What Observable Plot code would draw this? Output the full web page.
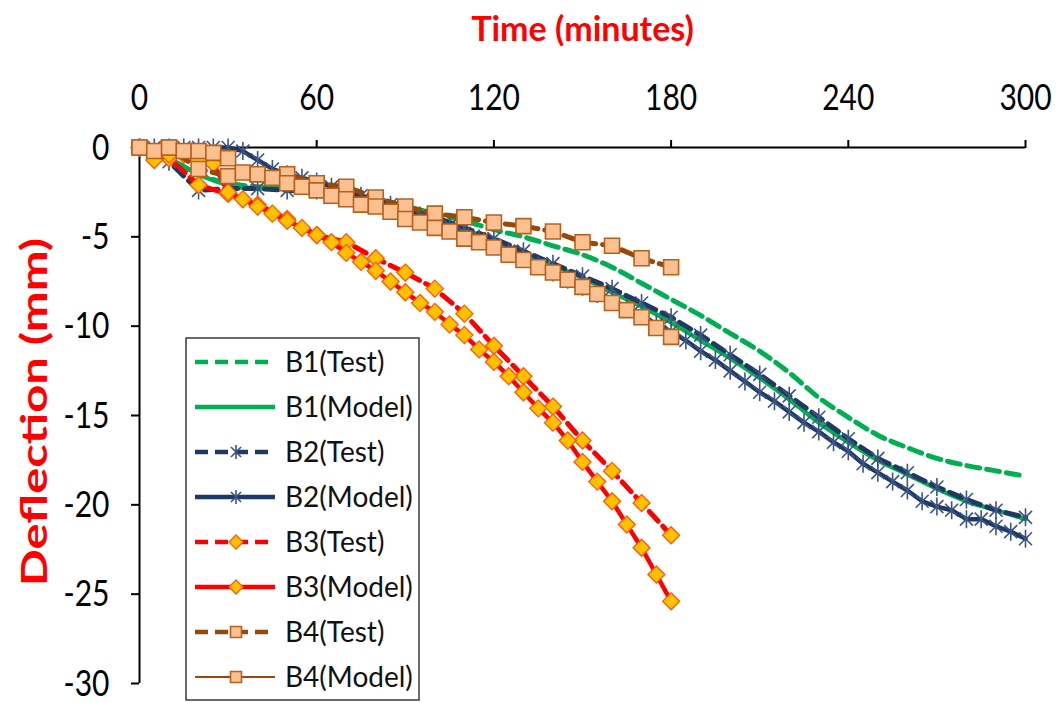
<!DOCTYPE html>
<html>
<head>
<meta charset="utf-8">
<script src="https://cdn.jsdelivr.net/npm/d3@7"></script>
<script src="https://cdn.jsdelivr.net/npm/@observablehq/plot@0.6"></script>
<style>
html, body { margin: 0; padding: 0; background: #fff; }
#chart { width: 1057px; height: 703px; }
</style>
</head>
<body>
<div id="chart"></div>
<script>
// ---- tick labels ----
const xTickValues = [0, 60, 120, 180, 240, 300];
const yTickValues = [0, -5, -10, -15, -20, -25, -30];

// ---- time grids (minutes) ----
const every10To300 = [0,10,20,30,40,50,60,70,80,90,100,110,120,130,140,150,160,170,180,190,200,210,220,230,240,250,260,270,280,290,300];
const every5To300 = [0,5,10,15,20,25,30,35,40,45,50,55,60,65,70,75,80,85,90,95,100,105,110,115,120,125,130,135,140,145,150,155,160,165,170,175,180,185,190,195,200,205,210,215,220,225,230,235,240,245,250,255,260,265,270,275,280,285,290,295,300];
const every10To180 = [0,10,20,30,40,50,60,70,80,90,100,110,120,130,140,150,160,170,180];
const every5To180 = [0,5,10,15,20,25,30,35,40,45,50,55,60,65,70,75,80,85,90,95,100,105,110,115,120,125,130,135,140,145,150,155,160,165,170,175,180];

// ---- deflections (mm) ----
const b1Test = [0,-0.7,-1.5,-2.0,-2.2,-2.3,-2.5,-2.7,-3.0,-3.3,-3.7,-4.1,-4.6,-5.0,-5.5,-6.0,-6.7,-7.6,-8.5,-9.4,-10.4,-11.4,-12.6,-14.0,-15.1,-16.1,-16.8,-17.4,-17.8,-18.1,-18.4];
const b1Model = [0,-0.6,-1.5,-2.1,-2.3,-2.3,-2.5,-2.8,-3.1,-3.5,-4.0,-4.6,-5.2,-5.9,-6.6,-7.3,-8.1,-8.9,-9.8,-10.8,-11.8,-12.9,-14.1,-15.4,-16.5,-17.5,-18.3,-19.1,-19.8,-20.3,-20.8];
const b2Test = [0,-0.8,-2.4,-2.3,-2.3,-2.4,-2.4,-2.7,-3.0,-3.4,-3.9,-4.5,-5.1,-5.8,-6.5,-7.2,-7.9,-8.7,-9.5,-10.5,-11.6,-12.7,-13.9,-15.1,-16.3,-17.4,-18.2,-19.0,-19.7,-20.3,-20.7];
const b2Model = [0,0,0,0,0,0,0,-0.2,-0.7,-1.2,-1.5,-1.7,-1.9,-2.2,-2.5,-2.7,-2.9,-3.2,-3.5,-3.8,-4.1,-4.4,-4.8,-5.1,-5.5,-5.8,-6.2,-6.6,-7.0,-7.4,-7.8,-8.2,-8.6,-9.0,-9.4,-9.9,-10.3,-10.8,-11.4,-11.9,-12.5,-13.1,-13.7,-14.2,-14.8,-15.4,-15.9,-16.5,-17.0,-17.7,-18.2,-18.7,-19.2,-19.8,-20.1,-20.3,-20.8,-20.8,-21.2,-21.5,-21.9];
const b3Test = [0,-0.6,-2.1,-2.6,-3.2,-4.0,-4.9,-5.3,-6.2,-7.0,-7.9,-9.3,-11.1,-12.8,-14.5,-16.4,-18.1,-19.9,-21.7];
const b3Model = [0,-0.7,-0.4,-0.4,-0.7,-0.9,-2.5,-2.9,-3.3,-3.7,-4.1,-4.5,-4.9,-5.3,-5.9,-6.4,-6.9,-7.5,-8.1,-8.7,-9.2,-9.9,-10.5,-11.3,-12.0,-12.8,-13.7,-14.6,-15.4,-16.4,-17.6,-18.7,-19.8,-21.1,-22.4,-23.9,-25.4];
const b4Test = [0,0,-1.2,-1.6,-1.5,-1.5,-2.0,-2.2,-2.8,-3.3,-3.7,-3.9,-4.2,-4.4,-4.7,-5.3,-5.5,-6.2,-6.7];
const b4Model = [0,-0.2,0,-0.2,-0.2,-0.3,-0.6,-1.4,-1.5,-1.7,-2.0,-2.2,-2.4,-2.7,-2.9,-3.2,-3.3,-3.6,-4.0,-4.2,-4.5,-4.7,-5.1,-5.3,-5.6,-6.0,-6.3,-6.7,-7.0,-7.4,-7.8,-8.2,-8.7,-9.1,-9.5,-10.1,-10.6];

const seriesNames = ["B1(Test)","B1(Model)","B2(Test)","B2(Model)","B3(Test)","B3(Model)","B4(Test)","B4(Model)"];
const xTitle = "Time (minutes)";
const yTitle = "Deflection (mm)";

// ---- marker shapes ----
const starSymbol = { draw(ctx, size) { const r = Math.sqrt(size / Math.PI), d = r * 0.72;
  ctx.moveTo(0, -r); ctx.lineTo(0, r); ctx.moveTo(-d, -d); ctx.lineTo(d, d); ctx.moveTo(-d, d); ctx.lineTo(d, -d); } };
const diamondSymbol = { draw(ctx, size) { const r = Math.sqrt(size / Math.PI);
  ctx.moveTo(0, -r); ctx.lineTo(r, 0); ctx.lineTo(0, r); ctx.lineTo(-r, 0); ctx.closePath(); } };
const squareSymbol = { draw(ctx, size) { const r = Math.sqrt(size / Math.PI);
  ctx.rect(-r, -r, 2 * r, 2 * r); } };

// ---- styles ----
const styles = [
  {color:"#00b050", dash:"13,7", width:5, legendWidth:4.5, curve:"monotone-x"},
  {color:"#00b050", dash:null, width:4.5, legendWidth:4.5, curve:"monotone-x"},
  {color:"#1f3864", dash:"13,7", width:5, legendWidth:4.5, symbol:starSymbol, r:9, legendR:7, mFill:"none", mStroke:"#3b5585", mWidth:1.6},
  {color:"#1f3864", dash:null, width:4.5, legendWidth:4.5, symbol:starSymbol, r:9, legendR:7, mFill:"none", mStroke:"#3b5585", mWidth:1.6},
  {color:"#ff0000", dash:"13,7", width:5, legendWidth:4.5, symbol:diamondSymbol, r:8.5, legendR:7, mFill:"#ffc000", mStroke:"#ff5a00", mWidth:1.3},
  {color:"#ff0000", dash:null, width:4.5, legendWidth:4.5, symbol:diamondSymbol, r:8.5, legendR:7, mFill:"#ffc000", mStroke:"#ff5a00", mWidth:1.3},
  {color:"#984807", dash:"13,7", width:5, legendWidth:4.5, symbol:squareSymbol, r:7.5, legendR:5.5, mFill:"#fac090", mStroke:"#b8601e", mWidth:1.6},
  {color:"#984807", dash:null, width:3, legendWidth:2.2, symbol:squareSymbol, r:7.5, legendR:5.5, mFill:"#fac090", mStroke:"#b8601e", mWidth:1.6}
];

const zip = (ts, ds) => ts.map((t, i) => ({t, d: ds[i]}));
const seriesData = [
  zip(every10To300, b1Test), zip(every10To300, b1Model),
  zip(every10To300, b2Test), zip(every5To300, b2Model),
  zip(every10To180, b3Test), zip(every5To180, b3Model),
  zip(every10To180, b4Test), zip(every5To180, b4Model)
];

const FONT = "Lato, Carlito, Calibri, sans-serif";
const marks = [
  Plot.ruleY([0], {stroke: "#000", strokeWidth: 2}),
  Plot.ruleX([0], {stroke: "#000", strokeWidth: 2}),
  Plot.axisX({anchor: "top", ticks: xTickValues, tickSize: 8, tickPadding: 30, strokeWidth: 2,
    fontSize: 30, color: "#000", tickFormat: d => String(d), label: null}),
  Plot.axisY({anchor: "left", ticks: yTickValues, tickSize: 8, tickPadding: 22, strokeWidth: 2,
    fontSize: 30, color: "#000", tickFormat: d => String(d), label: null}),
  Plot.text([xTitle], {frameAnchor: "top", dy: -117, fontSize: 34, fontWeight: "bold",
    fill: "#ff0000", lineAnchor: "middle"})
];
seriesData.forEach((data, i) => {
  const s = styles[i];
  marks.push(Plot.line(data, {x: "t", y: "d", stroke: s.color, strokeWidth: s.width,
    strokeDasharray: s.dash || undefined, curve: s.curve || "linear"}));
  if (s.symbol) {
    marks.push(Plot.dot(data, {x: "t", y: "d", symbol: s.symbol, r: s.r, fill: s.mFill,
      stroke: s.mStroke, strokeWidth: s.mWidth}));
  }
});

const plot = Plot.plot({
  width: 1057, height: 703,
  marginTop: 147, marginLeft: 139, marginRight: 32, marginBottom: 20,
  x: {domain: [0, 300]},
  y: {domain: [-30, 0]},
  style: {fontFamily: FONT, background: "#fff", overflow: "visible"},
  marks
});
document.getElementById("chart").appendChild(plot);

// stretch tick labels vertically (reference text is tall)
const svg = d3.select(plot);
svg.selectAll('g[aria-label="x-axis tick label"] text, g[aria-label="y-axis tick label"] text')
  .each(function() { const tr = this.getAttribute("transform") || ""; this.setAttribute("transform", tr + " scale(1,1.25)"); });

// y-axis title
svg.append("text")
  .attr("transform", "translate(34,412) rotate(-90) scale(1.32,1)")
  .attr("text-anchor", "middle").attr("dy", "0.35em")
  .attr("font-family", FONT).attr("font-size", 37).attr("font-weight", "bold")
  .attr("fill", "#ff0000").text(yTitle);

// ---- legend ----
const lg = svg.append("g").attr("font-family", FONT).attr("font-size", 28).attr("text-anchor", "start");
lg.append("rect").attr("x", 186).attr("y", 338).attr("width", 233).attr("height", 362)
  .attr("fill", "#fff").attr("stroke", "#3a3a3a").attr("stroke-width", 1.5);
seriesNames.forEach((name, i) => {
  const s = styles[i];
  const y = 362 + 45 * i;
  lg.append("line").attr("x1", 195).attr("x2", 275).attr("y1", y).attr("y2", y)
    .attr("stroke", s.color).attr("stroke-width", s.legendWidth).attr("stroke-dasharray", s.dash);
  if (s.symbol) {
    lg.append("path").attr("transform", `translate(236,${y})`)
      .attr("d", d3.symbol(s.symbol, Math.PI * s.legendR * s.legendR)())
      .attr("fill", s.mFill).attr("stroke", s.mStroke).attr("stroke-width", s.mWidth);
  }
  lg.append("text").attr("x", 285).attr("y", y).attr("dy", "0.36em").attr("fill", "#111").text(name);
});
</script>
</body>
</html>
